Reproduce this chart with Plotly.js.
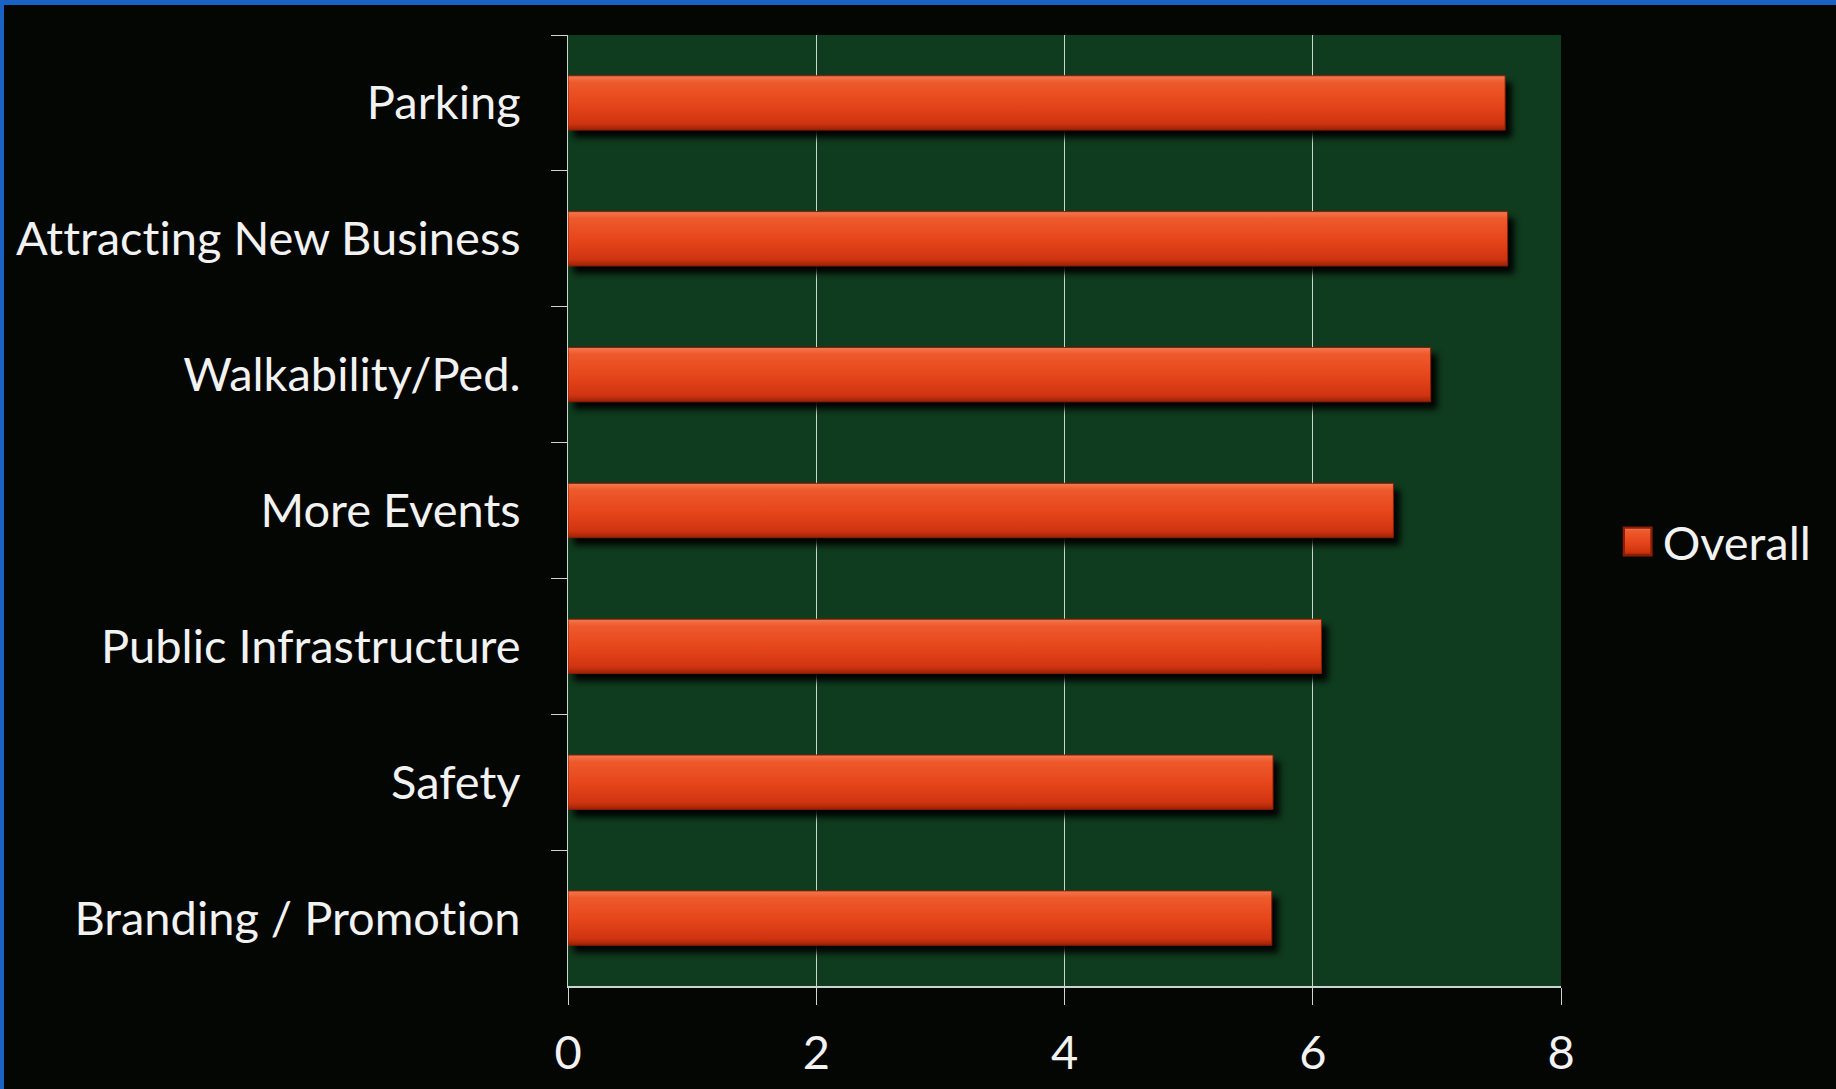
<!DOCTYPE html>
<html>
<head>
<meta charset="utf-8">
<script src="https://cdn.plot.ly/plotly-3.0.1.min.js"></script>
<style>
  html, body { margin: 0; padding: 0; background: #040604; overflow: hidden; }
  #chart { position: absolute; left: 0; top: 0; width: 1836px; height: 1089px; }
  #chart text { font-variant-ligatures: none; font-feature-settings: "liga" 0, "clig" 0; }
  #bt { position: absolute; left: 0; top: 0; width: 1836px; height: 5px; background: #1a62c4; }
  #bl { position: absolute; left: 0; top: 0; width: 4px; height: 1089px; background: #1a62c4; }
</style>
</head>
<body>
<div id="chart"></div>
<div id="bt"></div>
<div id="bl"></div>
<script>
const categories = ["Parking", "Attracting New Business", "Walkability/Ped.", "More Events",
                    "Public Infrastructure", "Safety", "Branding / Promotion"];
const overallValues = [7.55, 7.57, 6.95, 6.65, 6.07, 5.68, 5.67];
const seriesName = "Overall";
const xTickValues = [0, 2, 4, 6, 8];

const fontFamily = "Lato, 'Open Sans', sans-serif";
const textColor = "#f2f2f2";

const trace = {
  type: "bar",
  orientation: "h",
  name: seriesName,
  y: categories,
  x: overallValues,
  marker: { color: "#e5461c", line: { color: "#8a1e06", width: 1 } },
  showlegend: true,
  hoverinfo: "x+y"
};

const layout = {
  width: 1836,
  height: 1089,
  paper_bgcolor: "#040604",
  plot_bgcolor: "#0f3b1e",
  margin: { l: 568, r: 275, t: 35, b: 103, pad: 0 },
  bargap: 0.6,
  font: { family: fontFamily, color: textColor, size: 47 },
  xaxis: {
    range: [0, 8],
    tickvals: xTickValues,
    ticktext: xTickValues.map(String),
    showgrid: true,
    gridcolor: "#c9d6cc",
    gridwidth: 1,
    zeroline: false,
    showline: true,
    linecolor: "#c9d6cc",
    linewidth: 2,
    ticks: "outside",
    ticklen: 17,
    tickwidth: 1,
    tickcolor: "#c9d6cc",
    ticklabelstandoff: 8,
    tickfont: { family: fontFamily, size: 47, color: textColor },
    fixedrange: true
  },
  yaxis: {
    type: "category",
    autorange: "reversed",
    showgrid: false,
    zeroline: false,
    showline: true,
    linecolor: "#c9d6cc",
    linewidth: 1,
    ticks: "outside",
    tickson: "boundaries",
    ticklen: 16,
    tickwidth: 1,
    tickcolor: "#c9d6cc",
    ticklabelstandoff: 37,
    tickfont: { family: fontFamily, size: 47, color: textColor },
    fixedrange: true
  },
  showlegend: true,
  legend: {
    x: 1.052,
    xanchor: "left",
    y: 0.467,
    yanchor: "middle",
    itemwidth: 40,
    bgcolor: "rgba(0,0,0,0)",
    font: { family: fontFamily, size: 47, color: textColor }
  }
};

Plotly.newPlot("chart", [trace], layout, { displayModeBar: false, staticPlot: true }).then(function (gd) {
  const svg = gd.querySelector("svg.main-svg");
  const ns = "http://www.w3.org/2000/svg";
  let defs = svg.querySelector("defs");
  if (!defs) { defs = document.createElementNS(ns, "defs"); svg.insertBefore(defs, svg.firstChild); }
  const grad = document.createElementNS(ns, "linearGradient");
  grad.setAttribute("id", "barGrad");
  grad.setAttribute("x1", "0"); grad.setAttribute("y1", "0");
  grad.setAttribute("x2", "0"); grad.setAttribute("y2", "1");
  [["0", "#f27a52"], ["0.12", "#ee5a2c"], ["0.55", "#e5441a"], ["0.88", "#cf3410"], ["1", "#9a2206"]].forEach(function (s) {
    const st = document.createElementNS(ns, "stop");
    st.setAttribute("offset", s[0]);
    st.setAttribute("stop-color", s[1]);
    grad.appendChild(st);
  });
  defs.appendChild(grad);
  gd.querySelectorAll(".barlayer .point path").forEach(function (p) {
    p.style.fill = "url(#barGrad)";
    p.style.filter = "drop-shadow(6px 7px 3px rgba(0,0,0,0.95))";
  });
  gd.querySelectorAll(".legend .legendpoints path").forEach(function (p) {
    p.style.fill = "url(#barGrad)";
    const t = p.getAttribute("transform") || "";
    p.setAttribute("transform", t + " scale(2.3)");
  });
});
</script>
</body>
</html>
